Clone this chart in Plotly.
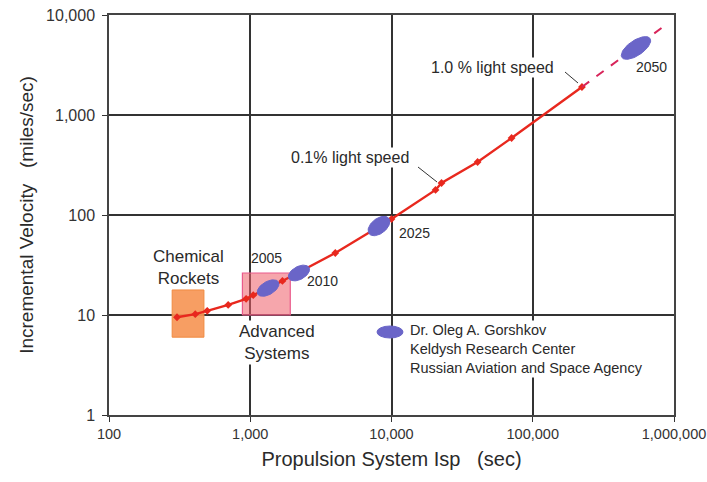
import numpy as np
import plotly.graph_objects as go

# ---------------- data ----------------
isp = [303, 408, 496, 698, 935, 1050, 1690, 4000, 10000, 20500, 22600, 40700, 70800, 223000]
vel = [9.5, 10.2, 11.0, 12.6, 14.5, 15.8, 21.9, 41.7, 91, 178, 209, 339, 589, 1905]
isp_proj = [223000, 910000]
vel_proj = [1905, 8300]

year_labels = ["2005", "2010", "2025", "2050"]
year_isp = [1337, 2213, 8150, 538000]
year_vel = [18.6, 26.3, 77.6, 4680]
ell_major = [12, 11.5, 12.5, 17]   # semi-axes in px
ell_minor = [6.5, 6.5, 7.5, 7.5]
ell_angle = [30, 28, 38, 34]

chem_isp = [280, 470]
chem_vel = [6.0, 17.8]
adv_isp = [880, 1920]
adv_vel = [10.0, 26.3]

x_ticks = [100, 1000, 10000, 100000, 1000000]
x_ticktext = ["100", "1,000", "10,000", "100,000", "1,000,000"]
y_ticks = [1, 10, 100, 1000, 10000]
y_ticktext = ["1", "10", "100", "1,000", "10,000"]

# ---------------- geometry helpers ----------------
W, H = 707, 482
L, R, T, B = 109, 33, 15, 67
PW, PH = W - L - R, H - T - B
PX_DEC = PW / 4.0
PY_DEC = PH / 4.0


def ppx(px):
    return (px - L) / PW


def ppy(py):
    return 1 - (py - T) / PH


FONT = "Liberation Sans, Arial, sans-serif"
TXT = "#2a2a2a"

fig = go.Figure()

# boxes
fig.add_trace(go.Scatter(x=[chem_isp[0], chem_isp[1], chem_isp[1], chem_isp[0], chem_isp[0]],
                         y=[chem_vel[0], chem_vel[0], chem_vel[1], chem_vel[1], chem_vel[0]],
                         mode="lines", fill="toself", fillcolor="rgba(246,150,86,0.92)",
                         line=dict(color="#f08a40", width=1), hoverinfo="skip", showlegend=False))
fig.add_trace(go.Scatter(x=[adv_isp[0], adv_isp[1], adv_isp[1], adv_isp[0], adv_isp[0]],
                         y=[adv_vel[0], adv_vel[0], adv_vel[1], adv_vel[1], adv_vel[0]],
                         mode="lines", fill="toself", fillcolor="rgba(238,92,104,0.55)",
                         line=dict(color="#ea5a8c", width=1.2), hoverinfo="skip", showlegend=False))

# main trend line
fig.add_trace(go.Scatter(x=isp, y=vel, mode="lines+markers",
                         line=dict(color="#e8281e", width=2.4),
                         marker=dict(symbol="diamond", size=6, color="#e8281e"),
                         showlegend=False))
# projection
fig.add_trace(go.Scatter(x=isp_proj, y=vel_proj, mode="lines",
                         line=dict(color="#d8245a", width=2, dash="dash"),
                         showlegend=False))

# ellipses (years)
for cx, cy, a, b, ang in zip(year_isp, year_vel, ell_major, ell_minor, ell_angle):
    t = np.linspace(0, 2 * np.pi, 60)
    th = np.radians(ang)
    dx = a * np.cos(t) * np.cos(th) - b * np.sin(t) * np.sin(th)
    dy = a * np.cos(t) * np.sin(th) + b * np.sin(t) * np.cos(th)
    ex = 10 ** (np.log10(cx) + dx / PX_DEC)
    ey = 10 ** (np.log10(cy) + dy / PY_DEC)
    fig.add_trace(go.Scatter(x=ex, y=ey, mode="lines", fill="toself",
                             fillcolor="#6a65c8", line=dict(color="#6a65c8", width=1),
                             hoverinfo="skip", showlegend=False))

shapes = []
# pointer lines
shapes.append(dict(type="line", xref="paper", yref="paper",
                   x0=ppx(418), y0=ppy(167), x1=ppx(437), y1=ppy(182),
                   line=dict(color="#333", width=1)))
shapes.append(dict(type="line", xref="paper", yref="paper",
                   x0=ppx(565), y0=ppy(72), x1=ppx(578), y1=ppy(83),
                   line=dict(color="#333", width=1)))
# legend ellipse
shapes.append(dict(type="circle", xref="paper", yref="paper",
                   x0=ppx(377), x1=ppx(403), y0=ppy(338), y1=ppy(326),
                   fillcolor="#6a65c8", line=dict(color="#6a65c8", width=1)))

ann = []


def add_text(text, px, py, size, bg=None, xanchor="center", align="center"):
    d = dict(text=text, xref="paper", yref="paper", x=ppx(px), y=ppy(py),
             showarrow=False, font=dict(family=FONT, size=size, color=TXT),
             xanchor=xanchor, yanchor="middle", align=align)
    if bg:
        d["bgcolor"] = bg
    ann.append(d)


add_text("Chemical<br>Rockets", 188, 267, 17)
add_text("Advanced<br>Systems", 277, 342, 17, bg="white")
add_text(year_labels[0], 266, 258, 14)
add_text(year_labels[1], 322, 281, 14)
add_text(year_labels[2], 414, 233, 14)
add_text(year_labels[3], 651, 67, 14)
add_text("0.1% light speed", 350, 158, 16, bg="white")
add_text("1.0 % light speed", 492, 67, 16, bg="white")
add_text("Dr. Oleg A. Gorshkov<br>Keldysh Research Center<br>Russian Aviation and Space Agency",
         408, 349, 14.5, bg="white", xanchor="left", align="left")

fig.update_layout(
    width=W, height=H,
    margin=dict(l=L, r=R, t=T, b=B, autoexpand=False),
    paper_bgcolor="white", plot_bgcolor="white",
    font=dict(family=FONT, color=TXT),
    shapes=shapes, annotations=ann,
    showlegend=False,
)
fig.update_xaxes(type="log", range=[2, 6], tickvals=x_ticks, ticktext=x_ticktext,
                 showgrid=True, gridcolor="#333", gridwidth=1.5,
                 showline=True, linecolor="#444", linewidth=1.5, mirror=True,
                 ticks="outside", ticklen=5, tickcolor="#333",
                 tickfont=dict(size=14.5, color="#333"), automargin=False,
                 ticklabeloverflow="allow",
                 title=dict(text="Propulsion System Isp   (sec)", font=dict(size=20, color=TXT), standoff=11),
                 zeroline=False)
fig.update_yaxes(type="log", range=[0, 4], tickvals=y_ticks, ticktext=y_ticktext,
                 showgrid=True, gridcolor="#333", gridwidth=1.5,
                 showline=True, linecolor="#444", linewidth=1.5, mirror=True,
                 ticks="outside", ticklen=5, tickcolor="#333",
                 tickfont=dict(size=16, color="#333"), automargin=False,
                 ticklabeloverflow="allow", ticklabelstandoff=4,
                 title=dict(text="Incremental Velocity   (miles/sec)", font=dict(size=19, color=TXT), standoff=7),
                 zeroline=False)

fig.write_html("out.html")
